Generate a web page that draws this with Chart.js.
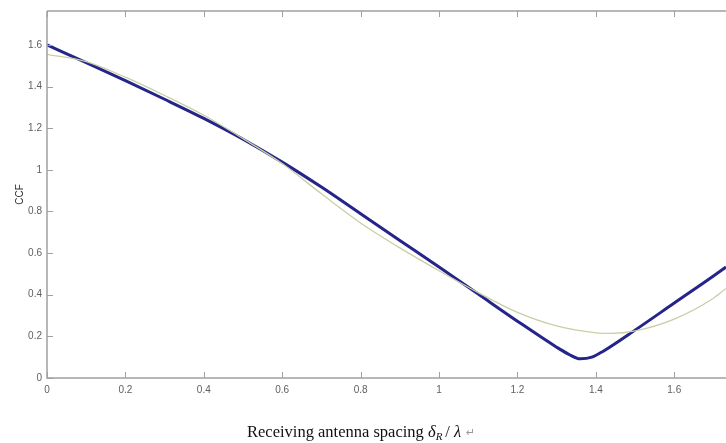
<!DOCTYPE html>
<html>
<head>
<meta charset="utf-8">
<script src="https://cdn.jsdelivr.net/npm/chart.js@4/dist/chart.umd.min.js"></script>
<style>
  html, body { margin: 0; padding: 0; background: #fff; }
  #wrap { width: 726px; height: 443px; }
</style>
</head>
<body>
<div id="wrap"><canvas id="ccfChart" width="726" height="443"></canvas></div>
<script>
// values
const blueX = [0, 0.1, 0.2, 0.3, 0.4, 0.5, 0.6, 0.7, 0.8, 0.9, 1.0, 1.1, 1.2, 1.3, 1.33, 1.36, 1.39, 1.42, 1.5, 1.6, 1.7, 1.732]
const blueCCF = [1.6, 1.515, 1.428, 1.339, 1.247, 1.147, 1.037, 0.917, 0.789, 0.661, 0.533, 0.403, 0.273, 0.148, 0.115, 0.092, 0.1, 0.13, 0.23, 0.36, 0.49, 0.533]
const greenX = [0, 0.1, 0.2, 0.3, 0.4, 0.5, 0.6, 0.7, 0.8, 0.9, 1.0, 1.1, 1.2, 1.3, 1.4, 1.44, 1.5, 1.6, 1.7, 1.732]
const greenCCF = [1.555, 1.52, 1.445, 1.357, 1.262, 1.15, 1.03, 0.885, 0.745, 0.625, 0.515, 0.41, 0.315, 0.25, 0.217, 0.214, 0.226, 0.283, 0.383, 0.43]
const xTicks = [0, 0.2, 0.4, 0.6, 0.8, 1, 1.2, 1.4, 1.6]
const yTicks = [0, 0.2, 0.4, 0.6, 0.8, 1, 1.2, 1.4, 1.6]

const axisColor = '#a0a0a0'
const labelColor = '#606060'

function toPoints(xs, ys) {
    return xs.map((x, i) => ({x: x, y: ys[i]}))
}

// draws the box edges and the inward tick marks like matlab does
const boxPlugin = {
    id: 'box',
    afterDraw(chart) {
        const ctx = chart.ctx
        const a = chart.chartArea
        const xs = chart.scales.x
        const ys = chart.scales.y
        ctx.save()
        ctx.strokeStyle = axisColor
        ctx.lineWidth = 1.5
        ctx.beginPath()
        ctx.moveTo(a.left, a.top)
        ctx.lineTo(a.right, a.top)
        ctx.moveTo(a.left, a.top)
        ctx.lineTo(a.left, a.bottom)
        ctx.lineTo(a.right, a.bottom)
        ctx.stroke()
        ctx.lineWidth = 1
        ctx.beginPath()
        xTicks.forEach(t => {
            const px = Math.round(xs.getPixelForValue(t)) + 0.5
            ctx.moveTo(px, a.bottom)
            ctx.lineTo(px, a.bottom - 6)
            ctx.moveTo(px, a.top)
            ctx.lineTo(px, a.top + 6)
        })
        yTicks.forEach(t => {
            const py = Math.round(ys.getPixelForValue(t)) + 0.5
            ctx.moveTo(a.left, py)
            ctx.lineTo(a.left + 6, py)
        })
        ctx.stroke()

        // x axis caption, serif like the document text
        const y = 437
        let x = 247
        ctx.fillStyle = '#111'
        ctx.textBaseline = 'alphabetic'
        ctx.textAlign = 'left'
        ctx.font = '16.5px "Liberation Serif", "Times New Roman", serif'
        const part1 = 'Receiving antenna spacing '
        ctx.fillText(part1, x, y)
        x += ctx.measureText(part1).width
        ctx.font = 'italic 16.5px "Liberation Serif", serif'
        ctx.fillText('\u03b4', x, y)
        x += ctx.measureText('\u03b4').width
        ctx.font = 'italic 11px "Liberation Serif", serif'
        ctx.fillText('R', x, y + 3)
        x += ctx.measureText('R').width + 3
        ctx.font = '16.5px "Liberation Serif", serif'
        ctx.fillText('/', x, y)
        x += ctx.measureText('/').width + 4
        ctx.font = 'italic 16.5px "Liberation Serif", serif'
        ctx.fillText('\u03bb', x, y)
        x += ctx.measureText('\u03bb').width + 5
        ctx.fillStyle = '#999'
        ctx.font = '11px "DejaVu Sans", sans-serif'
        ctx.fillText('\u21b5', x, y - 1)
        ctx.restore()
    }
}

const ccfChart = new Chart(document.getElementById('ccfChart'), {
    type: 'line',
    data: {
        datasets: [
            {
                label: 'simulated',
                data: toPoints(greenX, greenCCF),
                borderColor: '#c8cfa6',
                borderWidth: 1.3,
                pointRadius: 0,
                cubicInterpolationMode: 'monotone',
                fill: false
            },
            {
                label: 'CCF',
                data: toPoints(blueX, blueCCF),
                borderColor: '#24248a',
                borderWidth: 3,
                pointRadius: 0,
                cubicInterpolationMode: 'monotone',
                fill: false
            }
        ]
    },
    options: {
        responsive: false,
        animation: false,
        layout: { padding: { top: 10, right: 0, left: 0, bottom: 0 } },
        plugins: {
            legend: { display: false },
            tooltip: { enabled: false }
        },
        scales: {
            x: {
                type: 'linear',
                min: 0,
                max: 1.732,
                afterFit: scale => { scale.height = 65 },
                afterBuildTicks: scale => { scale.ticks = xTicks.map(v => ({value: v})) },
                grid: { display: false, drawTicks: false },
                border: { display: false },
                ticks: {
                    padding: 6,
                    color: labelColor,
                    font: { family: 'Arial, "Liberation Sans", sans-serif', size: 10 },
                    callback: v => String(v)
                }
            },
            y: {
                type: 'linear',
                min: 0,
                max: 1.763,
                afterFit: scale => { scale.width = 47 },
                afterBuildTicks: scale => { scale.ticks = yTicks.map(v => ({value: v})) },
                grid: { display: false, drawTicks: false },
                border: { display: false },
                title: {
                    display: true,
                    text: 'CCF',
                    color: '#333',
                    padding: { top: 14, bottom: 0 },
                    font: { family: 'Arial, "Liberation Sans", sans-serif', size: 10 }
                },
                ticks: {
                    padding: 5,
                    color: labelColor,
                    font: { family: 'Arial, "Liberation Sans", sans-serif', size: 10 },
                    callback: v => String(v)
                }
            }
        }
    },
    plugins: [boxPlugin]
})
</script>
</body>
</html>
